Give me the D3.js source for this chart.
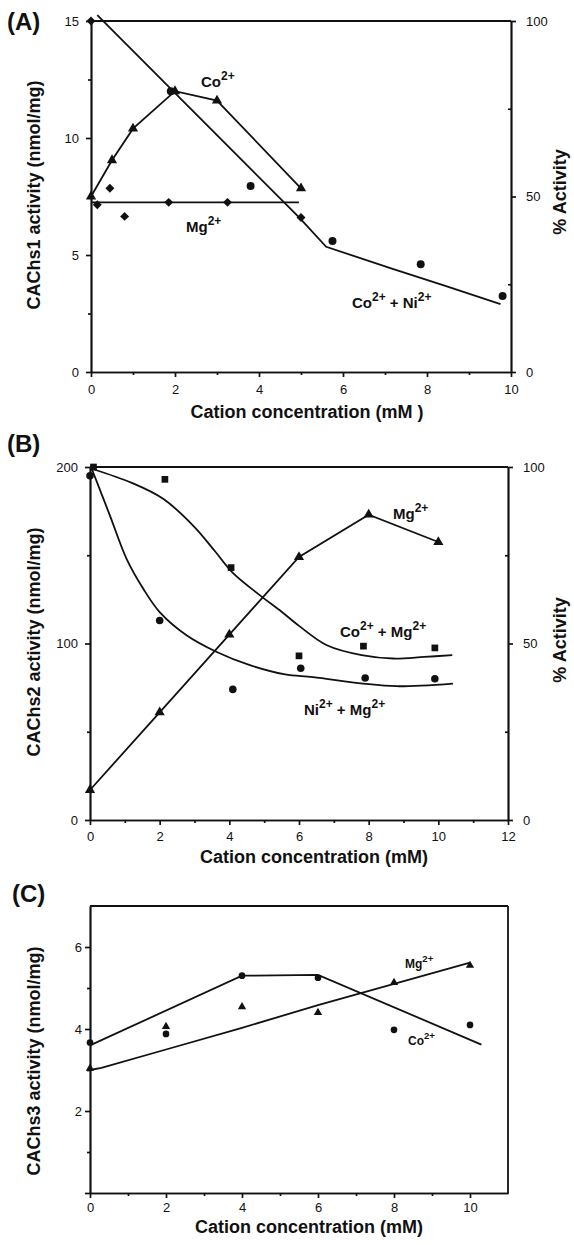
<!DOCTYPE html>
<html lang="en">
<head>
<meta charset="UTF-8">
<title>CAChs activity vs cation concentration</title>
<script src="https://d3js.org/d3.v7.min.js"></script>
<style>
    body { margin: 0; background: #fff; }
    svg { font-family: "Liberation Sans", Arial, Helvetica, sans-serif; }
    .axis path, .axis line { stroke: #111; stroke-width: 1.7; }
    .axis text { font-size: 13px; fill: #111; font-family: "Liberation Sans", Arial, sans-serif; }
    .title { font-weight: bold; font-size: 18px; fill: #111; }
    .tag { font-weight: bold; font-size: 24px; fill: #111; }
    .ion { font-weight: bold; fill: #111; }
    .fit { fill: none; stroke: #111; stroke-width: 1.8; }
    .mark { fill: #111; }
</style>
</head>
<body>
<div id="chart"></div>
<script>
// ---- (A) CAChs1 ----
var aCoX = [0, 0.5, 1, 2, 3, 5];
var aCoY = [7.5, 9.05, 10.4, 12.0, 11.6, 7.85];
var aMgX = [0.15, 0.45, 0.8, 1.85, 3.25];
var aMgY = [7.15, 7.85, 6.65, 7.25, 7.25];
var aMgLineX = [0, 4.95];
var aMgLineY = [7.25, 7.25];
var aCoNiX = [0, 1.9, 3.8, 5.0, 5.75, 7.85, 9.8];
var aCoNiY = [15, 12.0, 7.95, 6.6, 5.6, 4.6, 3.25];
var aCoNiLineX = [0.15, 4.96, 5.6, 7.2, 8.4, 9.75];
var aCoNiLineY = [15.25, 6.6, 5.35, 4.4, 3.7, 2.9];
var aXTicks = [0, 2, 4, 6, 8, 10];
var aYTicks = [0, 5, 10, 15];
var aPctTicks = [0, 50, 100];

// ---- (B) CAChs2 ----
var bMgX = [0, 2, 4, 6, 8, 10];
var bMgY = [17, 61, 105, 149, 173, 157.5];
var bCoMgX = [0.1, 2.15, 4.05, 6, 7.85, 9.9];
var bCoMgY = [200, 193, 143, 93, 98.5, 97.5];
var bNiMgX = [0, 2, 4.1, 6.05, 7.9, 9.9];
var bNiMgY = [195, 113, 74, 86, 80.5, 80];
var bCoMgFitX = [0.05, 1.2, 2.1, 3, 3.6, 4.1, 4.9, 5.5, 6, 6.8, 7.8, 8.7, 9.6, 10.4];
var bCoMgFitY = [199, 191, 182, 166, 152, 140, 127, 118, 110, 99, 93.4, 91.5, 92.4, 93.4];
var bNiMgFitX = [0.05, 0.57, 1.05, 1.53, 2.0, 2.77, 3.64, 4.59, 5.6, 6.4, 7.84, 8.8, 10.42];
var bNiMgFitY = [199, 172.6, 148, 131, 117.8, 104.7, 95.2, 87.7, 82.5, 81, 77.3, 75.8, 77.3];
var bXTicks = [0, 2, 4, 6, 8, 10, 12];
var bYTicks = [0, 100, 200];
var bPctTicks = [0, 50, 100];

// ---- (C) CAChs3 ----
var cCoX = [0, 2, 4, 6, 8, 10];
var cCoY = [3.67, 3.88, 5.3, 5.25, 3.98, 4.1];
var cMgX = [0, 2, 4, 6, 8, 10];
var cMgY = [3.04, 4.06, 4.54, 4.4, 5.13, 5.55];
var cCoLineX = [0, 4, 6, 10.3];
var cCoLineY = [3.6, 5.3, 5.32, 3.62];
var cMgLineX = [0, 0.3, 2, 4, 6, 8, 10];
var cMgLineY = [3.0, 3.05, 3.5, 4.03, 4.58, 5.1, 5.62];
var cXTicks = [0, 2, 4, 6, 8, 10];
var cYTicks = [2, 4, 6];

var svg = d3.select("#chart").append("svg")
    .attr("width", 574)
    .attr("height", 1245);

function pairs(xs, ys) {
    return xs.map(function (d, i) { return [d, ys[i]]; });
}
function odd(max) {
    return d3.range(1, max, 2);
}

function drawLine(g, x, y, xs, ys, curve) {
    var line = d3.line()
        .x(function (d) { return x(d[0]); })
        .y(function (d) { return y(d[1]); })
        .curve(curve || d3.curveLinear);
    g.append("path").attr("class", "fit").attr("d", line(pairs(xs, ys)));
}

function drawMarks(g, x, y, xs, ys, type, size, rot) {
    var sym = d3.symbol().type(type).size(size);
    g.selectAll(null).data(pairs(xs, ys)).enter()
        .append("path")
        .attr("class", "mark")
        .attr("d", sym)
        .attr("transform", function (d) {
            return "translate(" + x(d[0]) + "," + y(d[1]) + ")" + (rot ? " rotate(" + rot + ")" : "");
        });
}

// label like Co²⁺ + Ni²⁺ ; parts = [[base, sup], ...]
function ion(g, px, py, size, parts) {
    var t = g.append("text").attr("class", "ion")
        .attr("x", px).attr("y", py)
        .style("font-size", size + "px");
    parts.forEach(function (p, i) {
        t.append("tspan").attr("dy", i ? size * 0.5 : 0).text((i ? " + " : "") + p[0]);
        t.append("tspan").attr("dx", 0).attr("dy", -size * 0.5)
            .style("font-size", (size * 0.8) + "px").text(p[1]);
    });
}

function axes(g, x, y, o) {
    var y0 = y.range()[0];
    var x0 = x.range()[0];
    g.append("g").attr("class", "axis")
        .attr("transform", "translate(0," + y0 + ")")
        .call(d3.axisBottom(x).tickValues(o.xt).tickSize(5).tickSizeOuter(0).tickPadding(o.xpad));
    g.append("g").attr("class", "axis")
        .attr("transform", "translate(0," + y0 + ")")
        .call(d3.axisBottom(x).tickValues(o.xm).tickSize(3).tickSizeOuter(0).tickFormat(""));
    g.append("g").attr("class", "axis")
        .attr("transform", "translate(" + x0 + ",0)")
        .call(d3.axisLeft(y).tickValues(o.yt).tickSize(5).tickSizeOuter(0).tickPadding(o.ypad)
            .tickFormat(o.yfmt || d3.format("d")));
    g.append("g").attr("class", "axis")
        .attr("transform", "translate(" + x0 + ",0)")
        .call(d3.axisLeft(y).tickValues(o.ym).tickSize(3).tickSizeOuter(0).tickFormat(""));
    // top frame
    g.append("line").attr("class", "fit")
        .attr("x1", x.range()[0]).attr("x2", x.range()[1])
        .attr("y1", y.range()[1]).attr("y2", y.range()[1]);
}

function pctAxis(g, x, y2, ticks) {
    var xr = x.range()[1];
    g.append("g").attr("class", "axis")
        .attr("transform", "translate(" + xr + ",0)")
        .call(d3.axisRight(y2).tickValues(ticks).tickSize(5).tickSizeOuter(0).tickPadding(10));
    g.append("g").attr("class", "axis")
        .attr("transform", "translate(" + xr + ",0)")
        .call(d3.axisLeft(y2).tickValues([25, 75]).tickSize(3).tickSizeOuter(0).tickFormat(""));
}

function titles(g, tag, tagX, tagY, ytitle, ytx, yty, xtitle, xtx, xty, pct) {
    g.append("text").attr("class", "tag").attr("x", tagX).attr("y", tagY).text(tag);
    g.append("text").attr("class", "title")
        .attr("text-anchor", "middle")
        .attr("transform", "translate(" + ytx + "," + yty + ") rotate(-90)")
        .text(ytitle);
    g.append("text").attr("class", "title")
        .attr("text-anchor", "middle")
        .attr("x", xtx).attr("y", xty)
        .text(xtitle);
    if (pct) {
        g.append("text").attr("class", "title")
            .attr("text-anchor", "middle")
            .attr("transform", "translate(" + pct[0] + "," + pct[1] + ") rotate(-90)")
            .text("% Activity");
    }
}

// ===== Panel A =====
(function () {
    var g = svg.append("g");
    var x = d3.scaleLinear().domain([0, 10]).range([91, 511]);
    var y = d3.scaleLinear().domain([0, 15]).range([372, 21]);
    var y2 = d3.scaleLinear().domain([0, 100]).range([372, 21]);
    axes(g, x, y, { xt: aXTicks, xm: odd(10), yt: aYTicks, ym: [2.5, 7.5, 12.5], xpad: 8, ypad: 7 });
    pctAxis(g, x, y2, aPctTicks);

    drawLine(g, x, y, aCoNiLineX, aCoNiLineY);
    drawLine(g, x, y, aMgLineX, aMgLineY);
    drawLine(g, x, y, aCoX, aCoY);

    var diamonds = [0, 3];
    var cx = aCoNiX.filter(function (d, i) { return diamonds.indexOf(i) < 0; });
    var cy = aCoNiY.filter(function (d, i) { return diamonds.indexOf(i) < 0; });
    var dx = aCoNiX.filter(function (d, i) { return diamonds.indexOf(i) >= 0; });
    var dy = aCoNiY.filter(function (d, i) { return diamonds.indexOf(i) >= 0; });
    drawMarks(g, x, y, cx, cy, d3.symbolCircle, 50);
    drawMarks(g, x, y, aMgX, aMgY, d3.symbolSquare, 40, 45);
    drawMarks(g, x, y, dx, dy, d3.symbolSquare, 40, 45);
    drawMarks(g, x, y, aCoX, aCoY, d3.symbolTriangle, 45);

    ion(g, 201, 87, 15, [["Co", "2+"]]);
    ion(g, 186, 232, 15, [["Mg", "2+"]]);
    ion(g, 352, 308, 15, [["Co", "2+"], ["Ni", "2+"]]);

    titles(g, "(A)", 7, 30, "CAChs1 activity (nmol/mg)", 40, 195,
        "Cation concentration (mM )", 307, 418, [566, 192]);
})();

// ===== Panel B =====
(function () {
    var g = svg.append("g");
    var x = d3.scaleLinear().domain([0, 12]).range([90, 508]);
    var y = d3.scaleLinear().domain([0, 200]).range([820, 467]);
    var y2 = d3.scaleLinear().domain([0, 100]).range([820, 467]);
    axes(g, x, y, { xt: bXTicks, xm: odd(12), yt: bYTicks, ym: [50, 150], xpad: 7, ypad: 7 });
    pctAxis(g, x, y2, bPctTicks);

    drawLine(g, x, y, bMgX, bMgY);
    drawLine(g, x, y, bCoMgFitX, bCoMgFitY, d3.curveCatmullRom);
    drawLine(g, x, y, bNiMgFitX, bNiMgFitY, d3.curveCatmullRom);

    drawMarks(g, x, y, bMgX, bMgY, d3.symbolTriangle, 45);
    drawMarks(g, x, y, bCoMgX, bCoMgY, d3.symbolSquare, 45);
    drawMarks(g, x, y, bNiMgX, bNiMgY, d3.symbolCircle, 45);

    ion(g, 393, 519, 15, [["Mg", "2+"]]);
    ion(g, 340, 637, 15, [["Co", "2+"], ["Mg", "2+"]]);
    ion(g, 304, 715, 15, [["Ni", "2+"], ["Mg", "2+"]]);

    titles(g, "(B)", 7, 452, "CAChs2 activity (nmol/mg)", 40, 642,
        "Cation concentration (mM)", 314, 863, [566, 640]);
})();

// ===== Panel C =====
(function () {
    var g = svg.append("g");
    var x = d3.scaleLinear().domain([0, 11]).range([90, 508]);
    var y = d3.scaleLinear().domain([0, 7]).range([1193, 906]);
    axes(g, x, y, { xt: cXTicks, xm: odd(11), yt: [0].concat(cYTicks), ym: [1, 3, 5], xpad: 5, ypad: 3,
        yfmt: function (d) { return d ? d : ""; } });
    // right frame
    g.append("line").attr("class", "fit")
        .attr("x1", x.range()[1]).attr("x2", x.range()[1])
        .attr("y1", y.range()[0]).attr("y2", y.range()[1]);

    drawLine(g, x, y, cCoLineX, cCoLineY);
    drawLine(g, x, y, cMgLineX, cMgLineY);
    drawMarks(g, x, y, cCoX, cCoY, d3.symbolCircle, 35);
    drawMarks(g, x, y, cMgX, cMgY, d3.symbolTriangle, 30);

    ion(g, 405, 968, 12, [["Mg", "2+"]]);
    ion(g, 408, 1045, 12, [["Co", "2+"]]);

    titles(g, "(C)", 12, 902, "CAChs3 activity (nmol/mg)", 40, 1061,
        "Cation concentration (mM)", 309, 1233, null);
})();
</script>
</body>
</html>
